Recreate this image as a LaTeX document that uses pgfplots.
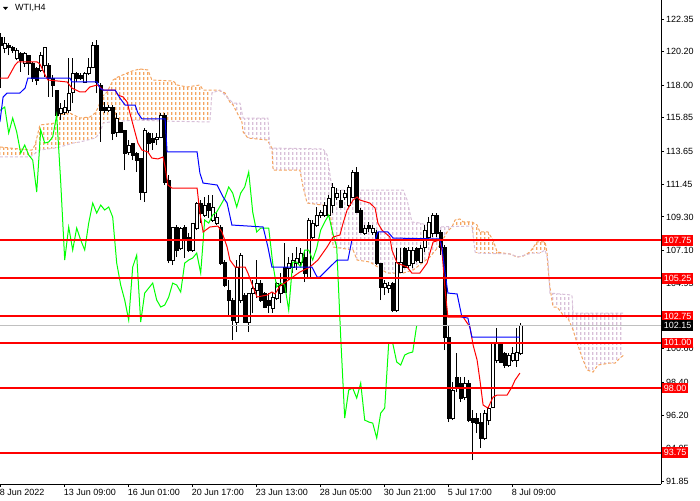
\documentclass[border=0pt]{standalone}
\usepackage{fontspec}
\setmainfont{Liberation Sans}
\usepackage{pgfplots}
\pgfplotsset{compat=1.18}
\usepackage{pgfplotstable}
\usepgfplotslibrary{fillbetween}
\usetikzlibrary{patterns}

\pgfdeclarepatternformonly{vdash}{\pgfqpoint{0pt}{0pt}}{\pgfqpoint{4pt}{5pt}}{\pgfqpoint{4pt}{5pt}}{%
  \pgfsetlinewidth{1.6pt}%
  \pgfpathmoveto{\pgfqpoint{1pt}{0pt}}%
  \pgfpathlineto{\pgfqpoint{1pt}{3.4pt}}%
  \pgfusepath{stroke}}

\definecolor{sandy}{HTML}{F4A460}
\definecolor{thist}{HTML}{D8BFD8}
\definecolor{silverline}{HTML}{C0C0C0}

\pgfplotstableread{
i O H L C
0 121.18 121.44 117.81 120.65
1 120.45 121.18 120.12 120.78
2 120.65 120.78 119.99 120.52
3 120.52 120.58 120.12 120.32
4 119.79 120.45 119.66 120.32
5 120.12 120.19 118.87 119.66
6 119.46 120.19 119.20 120.12
7 119.99 119.99 118.67 119.46
8 119.46 119.53 118.21 118.47
9 119.13 119.20 118.01 118.34
10 119.00 120.19 118.87 119.99
11 119.33 120.52 118.54 120.52
12 119.33 119.46 117.22 118.47
13 118.47 118.67 117.22 118.01
14 117.68 117.68 115.90 116.03
15 116.16 116.82 115.70 116.49
16 116.23 117.02 116.03 116.56
17 116.36 119.79 116.16 117.48
18 117.55 119.79 116.82 118.80
19 118.80 118.87 118.21 118.47
20 118.67 118.80 118.34 118.47
21 118.21 118.87 118.14 118.80
22 118.80 119.79 118.67 119.20
23 119.20 120.85 119.13 120.65
24 120.65 120.98 117.48 118.21
25 118.01 118.14 114.25 116.36
26 116.56 116.89 116.16 116.36
27 116.36 116.69 116.23 116.56
28 116.56 116.69 114.38 114.84
29 114.91 116.16 114.58 115.83
30 115.57 115.57 114.84 114.91
31 115.04 115.04 112.40 113.52
32 113.59 114.38 113.39 114.05
33 114.18 114.18 113.06 113.39
34 113.52 113.59 112.27 113.06
35 113.19 113.19 110.42 110.95
36 110.95 115.17 110.29 115.04
37 114.84 114.91 113.59 114.18
38 114.51 114.84 113.72 114.25
39 114.45 114.84 114.05 114.58
40 114.58 116.16 114.51 116.03
41 116.03 116.16 111.41 111.61
42 111.74 112.07 106.26 106.46
43 106.46 108.64 106.13 108.64
44 108.64 108.77 106.66 107.12
45 107.25 108.64 107.12 108.57
46 108.64 108.77 106.59 107.78
47 107.98 108.24 106.99 107.12
48 107.12 108.90 106.99 108.90
49 108.57 110.29 108.44 110.22
50 110.22 110.42 108.90 109.56
51 109.43 110.62 109.30 110.09
52 110.22 110.75 109.23 109.76
53 109.10 110.75 108.97 109.96
54 108.90 109.56 108.77 109.30
55 108.64 108.77 106.13 106.26
56 106.33 106.46 104.68 104.81
57 104.48 105.14 102.83 103.82
58 103.82 103.95 101.18 102.50
59 102.37 106.46 101.71 106.00
60 103.82 106.92 103.62 106.79
61 104.15 104.28 102.30 102.37
62 102.37 104.28 101.71 104.28
63 104.28 105.14 102.96 104.61
64 104.48 106.46 103.95 104.94
65 104.94 105.14 103.69 103.82
66 104.28 104.35 103.29 103.36
67 103.82 104.28 102.96 103.49
68 103.29 104.35 102.96 104.02
69 103.95 105.01 103.82 104.94
70 104.28 105.60 103.62 104.81
71 106.00 107.58 104.28 104.35
72 105.93 106.66 105.14 106.26
73 106.00 106.92 105.60 106.46
74 106.26 107.32 105.80 106.59
75 106.33 107.25 106.00 106.92
76 106.66 107.12 105.01 105.60
77 105.34 109.23 105.27 109.10
78 107.98 109.10 107.78 108.90
79 108.77 109.96 108.64 109.43
80 109.43 109.76 109.23 109.63
81 109.43 110.29 109.30 110.09
82 109.43 110.75 109.30 110.55
83 110.09 111.54 109.56 111.28
84 110.62 111.21 110.42 110.88
85 110.42 111.08 109.89 109.96
86 110.62 111.08 110.42 110.88
87 110.09 111.41 109.96 111.28
88 110.62 112.40 110.55 112.27
89 112.27 112.60 109.56 109.63
90 109.76 109.89 108.24 108.31
91 108.24 108.77 108.11 108.57
92 108.77 108.97 108.31 108.57
93 108.31 108.77 108.11 108.57
94 108.31 108.44 106.13 106.26
95 106.26 106.26 103.82 104.68
96 104.68 105.14 104.15 104.94
97 104.61 105.01 104.28 104.81
98 104.94 105.01 103.03 103.16
99 103.16 107.25 103.03 106.33
100 105.67 107.25 105.60 106.33
101 107.25 107.32 105.93 106.00
102 106.13 107.32 105.93 107.12
103 106.26 107.32 105.93 107.12
104 107.25 107.32 106.33 106.46
105 106.33 107.45 106.26 107.25
106 107.32 108.77 106.99 108.44
107 107.98 109.30 107.91 108.97
108 108.24 109.56 107.98 109.43
109 109.43 109.56 107.98 108.24
110 108.31 108.44 106.79 107.32
111 107.32 107.45 100.52 101.38
112 101.38 102.17 95.77 96.03
113 96.03 98.41 95.90 97.88
114 98.74 100.32 97.75 98.01
115 98.34 98.74 97.09 97.35
116 97.42 98.74 97.22 98.34
117 98.34 98.54 95.77 95.90
118 96.03 96.56 93.26 95.77
119 96.03 96.36 95.04 95.70
120 95.77 96.36 94.05 94.71
121 94.71 96.56 94.58 96.36
122 95.90 96.76 95.57 96.69
123 96.76 101.05 96.69 100.98
124 99.86 101.97 99.66 100.98
125 100.98 101.05 99.66 99.73
126 100.32 100.39 99.33 99.53
127 99.53 100.32 99.40 100.19
128 99.86 100.72 99.73 100.32
129 99.86 101.97 99.40 100.39
130 100.32 102.30 100.19 102.15
}\candles

\pgfplotstableread{
x y
-0.2 118.47
1.8 118.47
3.6 119.33
4.3 119.53
9.1 119.53
9.8 119.40
11.1 118.67
11.8 118.34
16.6 118.21
17.8 117.81
19.8 117.55
21.1 117.55
22.3 117.88
24.1 118.01
24.8 117.88
25.6 117.68
28.6 117.68
29.3 117.35
30.6 117.22
31.6 116.89
32.3 116.16
33.1 115.37
34.3 114.18
35.3 113.72
36.8 113.59
37.8 113.19
39.3 113.13
40.6 113.26
41.1 112.60
41.8 111.41
42.8 111.21
49.1 111.21
49.8 109.56
50.6 108.31
52.3 108.64
54.3 108.70
55.3 108.31
56.6 107.32
57.3 106.46
58.6 106.00
61.1 106.00
61.8 105.60
63.1 104.68
64.1 104.02
66.6 104.15
67.8 104.35
68.6 104.22
69.8 104.74
74.8 105.67
77.3 106.00
79.3 106.46
81.6 107.32
83.1 107.98
84.8 108.11
85.6 108.90
86.6 109.76
88.1 110.42
89.1 110.62
89.8 110.42
92.3 110.22
93.6 109.89
94.3 108.90
95.3 108.44
97.3 107.98
97.8 107.12
99.1 106.26
101.6 106.00
102.8 105.60
104.8 105.60
106.6 106.26
107.3 106.92
108.1 107.65
109.8 107.78
110.3 107.12
111.1 104.48
111.8 102.70
115.6 102.70
117.3 102.04
118.1 100.85
119.1 99.86
119.8 98.54
120.6 96.89
121.8 96.69
123.1 97.42
124.1 97.55
126.6 97.55
127.8 98.08
128.6 98.54
129.8 99.00
}\tenkan

\pgfplotstableread{
x y
-0.2 115.57
0.6 117.22
1.6 117.48
4.8 117.48
6.1 117.81
6.8 118.47
17.3 118.47
17.8 118.21
24.1 118.21
24.8 117.81
25.6 117.68
28.6 117.68
29.8 117.15
31.1 116.69
33.6 116.69
34.3 116.16
35.3 115.77
41.1 115.77
41.6 113.59
49.1 113.59
49.8 112.20
50.6 111.54
54.1 111.41
55.6 110.62
56.6 110.22
57.8 108.77
65.6 108.64
66.8 107.32
67.8 106.00
77.8 106.00
79.1 105.34
79.8 105.34
82.8 106.13
84.1 106.46
86.8 106.46
87.8 107.78
93.6 107.78
94.3 108.31
96.8 108.31
98.1 107.91
109.8 107.85
110.3 107.32
111.1 105.60
111.8 104.28
114.1 104.22
115.3 102.70
116.8 102.63
117.8 101.38
129.8 101.38
}\kijun

\pgfplotstableread{
x y
-0.2 113.92
7.3 113.72
7.8 113.72
8.6 114.05
9.8 115.37
13.6 115.50
14.3 116.03
17.3 116.16
19.8 115.83
22.3 115.90
23.6 116.16
24.3 116.49
25.3 117.22
26.6 117.55
28.1 118.34
29.3 118.54
32.8 118.93
34.8 119.07
36.8 119.00
37.8 118.34
43.1 118.27
44.1 118.01
46.6 117.88
49.8 118.01
50.6 117.68
54.3 117.68
56.1 117.48
57.3 116.89
58.1 116.69
60.3 115.57
60.6 114.91
61.8 114.51
66.6 114.38
67.8 113.85
68.1 112.40
74.8 112.40
75.6 111.28
76.6 110.22
80.3 110.09
82.3 110.09
83.1 107.32
88.1 107.12
89.1 106.46
92.3 106.33
96.6 105.60
100.6 105.60
103.1 105.80
107.3 106.66
109.8 107.45
111.6 108.31
112.8 108.64
113.6 109.10
114.8 109.17
115.6 108.97
117.8 108.97
119.1 108.77
119.8 108.31
121.8 108.31
123.1 107.78
124.1 106.99
125.6 106.92
127.3 106.86
129.1 106.66
130.6 106.72
132.3 106.99
134.1 107.65
136.1 107.65
136.6 106.92
136.8 106.00
137.3 104.68
137.8 103.82
138.1 103.36
139.1 103.36
140.6 102.83
141.8 102.63
143.1 101.84
144.1 100.98
145.3 100.06
146.6 99.20
148.1 99.07
149.3 99.53
152.3 99.66
153.6 99.66
154.8 99.99
155.8 100.19
}\spanA

\pgfplotstableread{
x y
-0.2 113.26
7.3 113.26
9.8 113.72
13.6 113.85
14.8 113.92
18.1 114.18
19.8 114.25
23.6 114.51
24.8 114.84
25.6 115.50
27.3 115.57
33.6 115.70
40.6 115.63
52.3 115.57
52.8 117.48
54.8 117.68
57.3 117.02
58.1 116.82
59.8 116.82
60.6 115.83
66.8 115.83
67.3 113.85
80.6 113.79
81.6 113.39
82.8 111.21
83.6 111.08
100.6 111.08
101.6 110.42
102.8 108.97
104.8 108.90
108.1 108.64
117.8 108.70
118.6 106.99
119.1 106.92
127.3 106.86
129.3 106.66
131.1 106.79
132.8 106.92
134.8 106.92
136.1 107.12
136.8 106.46
137.3 104.28
142.8 104.15
143.1 102.96
155.6 102.96
}\spanB

\begin{document}
\begin{tikzpicture}[x=1pt,y=1pt]
\begin{axis}[
  at={(0pt,16pt)}, anchor=south west,
  width=661pt, height=484pt, scale only axis,
  xmin=-0.175, xmax=165.075, ymin=91.68, ymax=123.62,
  axis x line*=bottom, axis y line*=right,
  axis line style={black, line width=1pt, -},
  xtick={0,16,32,48,64,80,96,112,128},
  xticklabels={8 Jun 2022,13 Jun 09:00,16 Jun 01:00,20 Jun 17:00,23 Jun 13:00,28 Jun 05:00,30 Jun 21:00,5 Jul 17:00,8 Jul 09:00},
  ytick={91.85,94.05,96.20,98.40,100.60,102.75,104.95,107.10,109.30,111.45,113.65,115.85,118.00,120.20,122.35},
  yticklabels={91.85,94.05,96.20,98.40,100.60,{},104.95,107.10,109.30,111.45,113.65,115.85,118.00,120.20,122.35},
  tick align=outside, major tick length=3pt,
  tick style={black, line width=1pt},
  xticklabel style={anchor=north west, inner sep=0pt, yshift=-2pt, xshift=-1pt},
  yticklabel style={anchor=west, inner sep=0pt, xshift=2pt},
  ticklabel style={font=\fontsize{9}{10}\selectfont},
  /pgf/number format/assume math mode=true,
  clip mode=individual,
]
% cloud
\addplot[name path=sa, sandy, line width=1pt, dash pattern=on 3pt off 2pt, forget plot] table {\spanA};
\addplot[name path=sb, thist, line width=1pt, dash pattern=on 3pt off 2pt, forget plot] table {\spanB};
\addplot[pattern=vdash, pattern color=sandy, draw=none, forget plot] fill between[of=sa and sb, soft clip={domain=-1:52.6}];
\addplot[pattern=vdash, pattern color=thist, draw=none, forget plot] fill between[of=sa and sb, soft clip={domain=52.6:112.8}];
\addplot[pattern=vdash, pattern color=sandy, draw=none, forget plot] fill between[of=sa and sb, soft clip={domain=112.8:136.8}];
\addplot[pattern=vdash, pattern color=thist, draw=none, forget plot] fill between[of=sa and sb, soft clip={domain=136.8:160}];
% candles
\pgfplotsforeachungrouped \r in {0,...,130}{%
  \pgfplotstablegetelem{\r}{i}\of\candles \let\ci\pgfplotsretval
  \pgfplotstablegetelem{\r}{O}\of\candles \let\co\pgfplotsretval
  \pgfplotstablegetelem{\r}{H}\of\candles \let\ch\pgfplotsretval
  \pgfplotstablegetelem{\r}{L}\of\candles \let\cl\pgfplotsretval
  \pgfplotstablegetelem{\r}{C}\of\candles \let\cc\pgfplotsretval
  \pgfmathsetmacro\xl{\ci-0.3}%
  \pgfmathsetmacro\xr{\ci+0.3}%
  \ifdim\co pt>\cc pt \def\bodyfill{black}\else\def\bodyfill{white}\fi
  \edef\doit{%
    \noexpand\addplot[black, line width=1pt, forget plot] coordinates {(\ci,\cl) (\ci,\ch)};
    \noexpand\addplot[draw=black, fill=\bodyfill, line width=0.8pt, forget plot] coordinates {(\xl,\co) (\xr,\co) (\xr,\cc) (\xl,\cc)} -- cycle;
  }%
  \doit
}
% chikou span: closes plotted 26 bars back
\addplot[color={rgb,255:red,0;green,255;blue,0}, line width=1pt, forget plot] table[x expr=\thisrow{i}-26, y=C] {\candles};
\addplot[red, line width=1pt, forget plot] table {\tenkan};
\addplot[blue, line width=1pt, forget plot] table {\kijun};
% levels
\addplot[silverline, line width=1pt, forget plot] coordinates {(-0.175,102.15) (165.075,102.15)};
\addplot[red, line width=2pt, forget plot] coordinates {(-0.175,107.75) (165.075,107.75)};
\addplot[red, line width=2pt, forget plot] coordinates {(-0.175,105.25) (165.075,105.25)};
\addplot[red, line width=2pt, forget plot] coordinates {(-0.175,102.75) (165.075,102.75)};
\addplot[red, line width=2pt, forget plot] coordinates {(-0.175,101.00) (165.075,101.00)};
\addplot[red, line width=2pt, forget plot] coordinates {(-0.175,98.00) (165.075,98.00)};
\addplot[red, line width=2pt, forget plot] coordinates {(-0.175,93.75) (165.075,93.75)};
\tikzset{lvl/.style={anchor=west, xshift=1pt, text=white, inner xsep=1.6pt, inner ysep=0pt, minimum height=10.5pt, font=\fontsize{9}{10}\selectfont}}
\node[lvl, fill=red] at (axis cs:165.075,107.75) {107.75};
\node[lvl, fill=red] at (axis cs:165.075,105.25) {105.25};
\node[lvl, fill=red] at (axis cs:165.075,102.75) {102.75};
\node[lvl, fill=black] at (axis cs:165.075,102.15) {102.15};
\node[lvl, fill=red] at (axis cs:165.075,101.00) {101.00};
\node[lvl, fill=red] at (axis cs:165.075,98.00) {98.00};
\node[lvl, fill=red] at (axis cs:165.075,93.75) {93.75};
\end{axis}
\fill (3,493) -- (8,493) -- (5.5,490) -- cycle;
\node[anchor=west, inner sep=0pt, font=\fontsize{9}{10}\selectfont] at (15,492) {WTI,H4};
\pgfresetboundingbox
\path (0,0) rectangle (700,500);
\end{tikzpicture}
\end{document}
